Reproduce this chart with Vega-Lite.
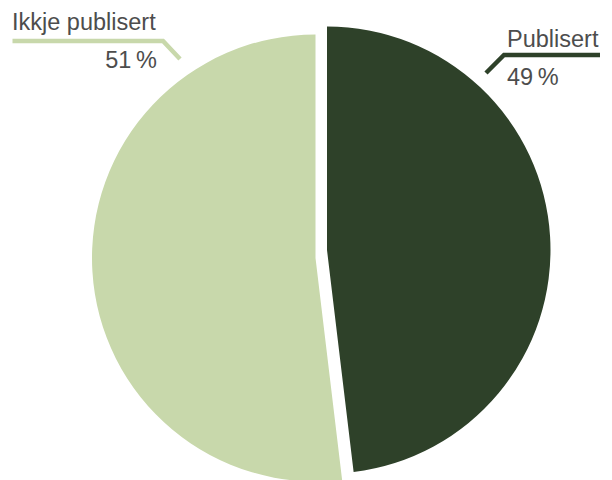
{
  "$schema": "https://vega.github.io/schema/vega-lite/v6.json",
  "width": 612,
  "height": 480,
  "autosize": {"type": "none"},
  "padding": 0,
  "background": "white",
  "config": {"view": {"stroke": null}, "axis": {"disable": true}},
  "datasets": {
    "pie": [
      {"category": "Publisert", "value": 48.1, "label": "49 %"},
      {"category": "Ikkje publisert", "value": 51.9, "label": "51 %"}
    ],
    "leaders": [
      {"series": "Ikkje publisert", "pt": 1, "x": 12.5, "y": 41},
      {"series": "Ikkje publisert", "pt": 2, "x": 163, "y": 41},
      {"series": "Ikkje publisert", "pt": 3, "x": 180, "y": 59},
      {"series": "Publisert", "pt": 1, "x": 486, "y": 73},
      {"series": "Publisert", "pt": 2, "x": 504, "y": 55},
      {"series": "Publisert", "pt": 3, "x": 600, "y": 55}
    ],
    "labels": [
      {"text": "Ikkje publisert", "x": 12, "y": 30, "align": "left"},
      {"text": "51\u2009%", "x": 157, "y": 68, "align": "right"},
      {"text": "Publisert", "x": 507, "y": 46.5, "align": "left"},
      {"text": "49\u2009%", "x": 507, "y": 85, "align": "left"}
    ]
  },
  "layer": [
    {
      "data": {"name": "pie"},
      "transform": [
        {"window": [{"op": "sum", "field": "value", "as": "v1"}], "sort": [{"field": "category", "order": "descending"}], "frame": [null, 0]},
        {"calculate": "datum.v1 - datum.value", "as": "v0"},
        {"filter": "datum.category == 'Publisert'"}
      ],
      "mark": {"type": "arc", "radius": 223.5, "xOffset": 21, "yOffset": 10},
      "encoding": {
        "theta": {"field": "v0", "type": "quantitative", "scale": {"domain": [0, 100]}},
        "theta2": {"field": "v1"},
        "fill": {"field": "category", "type": "nominal", "scale": {"domain": ["Publisert", "Ikkje publisert"], "range": ["#2e4129", "#c8d8ab"]}, "legend": null}
      }
    },
    {
      "data": {"name": "pie"},
      "transform": [
        {"window": [{"op": "sum", "field": "value", "as": "v1"}], "sort": [{"field": "category", "order": "descending"}], "frame": [null, 0]},
        {"calculate": "datum.v1 - datum.value", "as": "v0"},
        {"filter": "datum.category == 'Ikkje publisert'"}
      ],
      "mark": {"type": "arc", "radius": 223.5, "xOffset": 9.5, "yOffset": 18},
      "encoding": {
        "theta": {"field": "v0", "type": "quantitative", "scale": {"domain": [0, 100]}},
        "theta2": {"field": "v1"},
        "fill": {"field": "category", "type": "nominal", "legend": null}
      }
    },
    {
      "data": {"name": "leaders"},
      "mark": {"type": "line", "strokeWidth": 4.5, "strokeCap": "butt", "strokeJoin": "miter"},
      "encoding": {
        "x": {"field": "x", "type": "quantitative", "scale": {"domain": [0, 612], "nice": false, "zero": false}, "axis": null},
        "y": {"field": "y", "type": "quantitative", "scale": {"domain": [0, 480], "reverse": true, "nice": false, "zero": false}, "axis": null},
        "detail": {"field": "series"},
        "order": {"field": "pt"},
        "stroke": {"field": "series", "type": "nominal", "scale": {"domain": ["Publisert", "Ikkje publisert"], "range": ["#2e4129", "#c8d8ab"]}, "legend": null}
      }
    },
    {
      "data": {"name": "labels"},
      "transform": [{"filter": "datum.align == 'left'"}],
      "mark": {"type": "text", "align": "left", "font": "Liberation Sans", "fontSize": 23.5, "baseline": "alphabetic", "color": "#4d4d4d", "letterSpacing": -0.4},
      "encoding": {
        "x": {"field": "x", "type": "quantitative", "scale": {"domain": [0, 612], "nice": false, "zero": false}, "axis": null},
        "y": {"field": "y", "type": "quantitative", "scale": {"domain": [0, 480], "reverse": true, "nice": false, "zero": false}, "axis": null},
        "text": {"field": "text"}
      }
    },
    {
      "data": {"name": "labels"},
      "transform": [{"filter": "datum.align == 'right'"}],
      "mark": {"type": "text", "align": "right", "font": "Liberation Sans", "fontSize": 23.5, "baseline": "alphabetic", "color": "#4d4d4d", "letterSpacing": -0.4},
      "encoding": {
        "x": {"field": "x", "type": "quantitative", "scale": {"domain": [0, 612], "nice": false, "zero": false}, "axis": null},
        "y": {"field": "y", "type": "quantitative", "scale": {"domain": [0, 480], "reverse": true, "nice": false, "zero": false}, "axis": null},
        "text": {"field": "text"}
      }
    }
  ]
}
